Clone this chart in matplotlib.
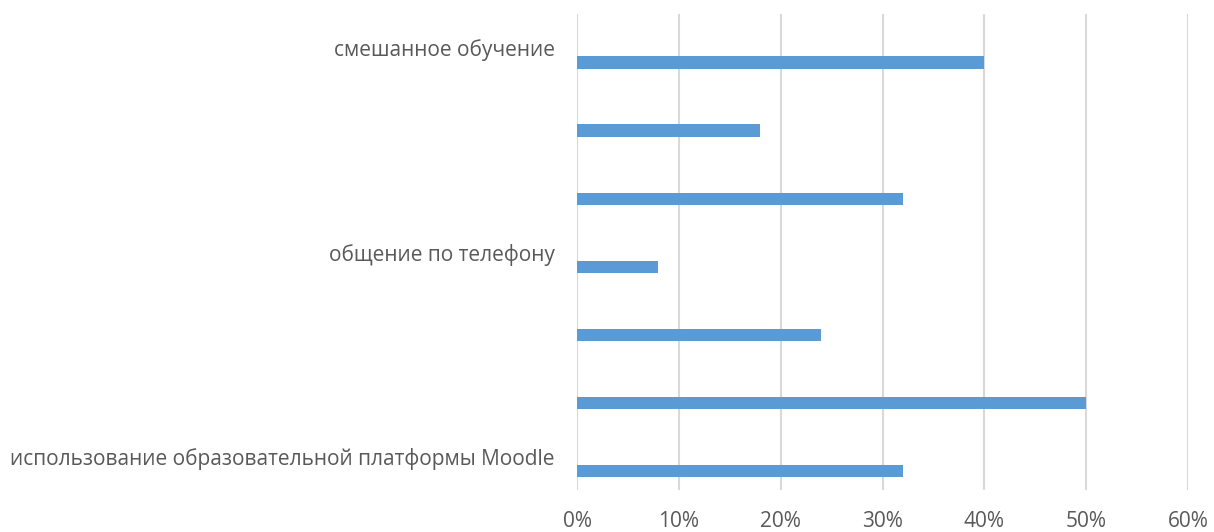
import numpy as np
import matplotlib.pyplot as plt
from matplotlib.ticker import FuncFormatter

# categories bottom to top; only every third label is visible in the source
categories = [
    "использование образовательной платформы Moodle",
    "",
    "",
    "общение по телефону",
    "",
    "",
    "смешанное обучение",
]
values = [32, 50, 24, 8, 32, 18, 40]
x_ticks = [0, 10, 20, 30, 40, 50, 60]

plt.rcParams['font.family'] = ['Open Sans', 'DejaVu Sans']

fig = plt.figure(figsize=(12.14, 5.32), dpi=100)
ax = fig.add_axes([0.4753, 0.0789, 0.5033, 0.8948])

pos = np.arange(len(categories))
# the bars sit a bit below the category centre (Excel cluster with an empty series)
ax.barh(pos - 0.22, values, height=0.19, color="#5b9bd5", zorder=3)

ax.set_xlim(0, 60)
ax.set_ylim(-0.5, len(categories) - 0.5)
ax.set_xticks(x_ticks)
ax.xaxis.set_major_formatter(FuncFormatter(lambda v, _: f"{v:.0f}%"))
ax.set_yticks(pos)
ax.set_yticklabels(categories)

ax.grid(axis="x", color="#d9d9d9", linewidth=1.5, zorder=0)
for s in ax.spines.values():
    s.set_visible(False)
ax.tick_params(axis="both", length=0, labelsize=15, colors="#595959")
ax.tick_params(axis="y", pad=16)
ax.tick_params(axis="x", pad=15)

fig.savefig("out.png", dpi=100)
